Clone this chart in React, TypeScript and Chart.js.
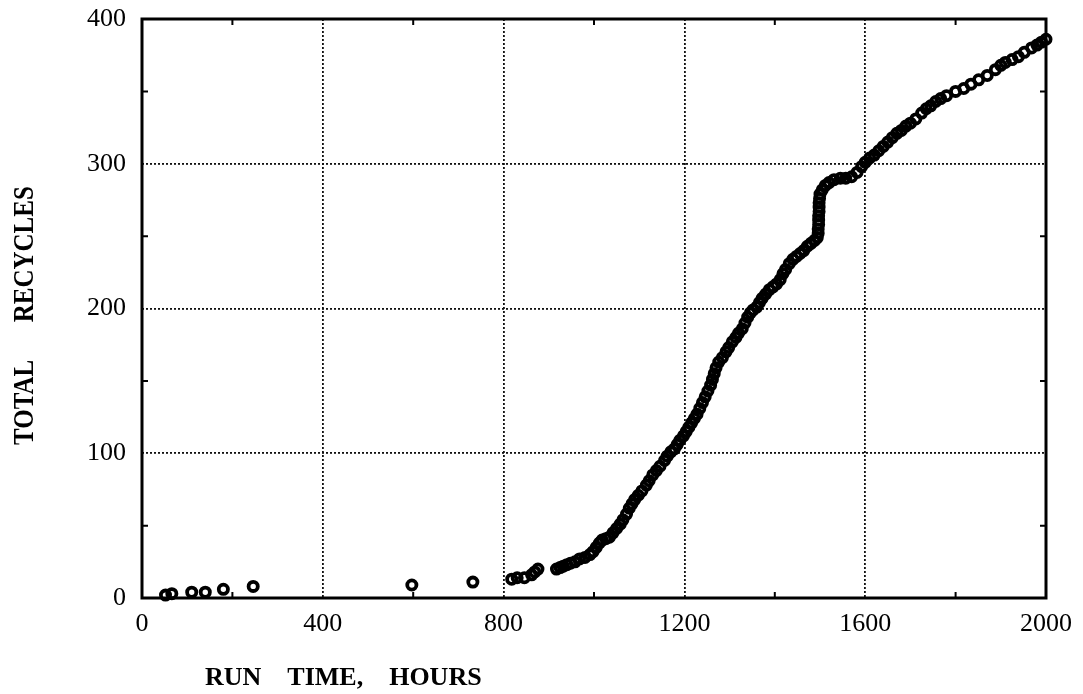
import React, { useEffect, useRef } from "react";
import { Chart, registerables } from "chart.js";

Chart.register(...registerables);

// Run time (hours) of each recorded recycle
const runHours = [
  52, 66, 110, 140, 180, 246, 597, 732,
  818, 830, 846, 862, 869, 876, 917, 925, 932, 940,
  948, 958, 968, 980, 991, 998, 1005, 1012, 1018, 1026,
  1034, 1042, 1050, 1058, 1064, 1072, 1078, 1084, 1090, 1098,
  1106, 1116, 1122, 1130, 1138, 1146, 1156, 1162, 1170, 1178,
  1184, 1190, 1198, 1204, 1210, 1216, 1222, 1228, 1234, 1240,
  1246, 1252, 1258, 1262, 1266, 1270, 1276, 1284, 1292, 1298,
  1306, 1314, 1320, 1328, 1334, 1340, 1346, 1352, 1360, 1366,
  1372, 1380, 1388, 1396, 1404, 1412, 1418, 1424, 1432, 1440,
  1448, 1456, 1464, 1472, 1480, 1488, 1494, 1496, 1496, 1497,
  1497, 1497, 1498, 1498, 1498, 1499, 1500, 1505, 1512, 1520,
  1531, 1545, 1557, 1570, 1582, 1592, 1600, 1610, 1620, 1630,
  1640, 1650, 1660, 1670, 1680, 1690, 1700, 1712, 1725, 1735,
  1745, 1756, 1767, 1780, 1800, 1818, 1834, 1851, 1870, 1888,
  1900, 1910, 1925, 1939, 1952, 1968, 1980, 1990, 2000,
];

// Total recycles at those times
const totalRecycles = [
  2, 3, 4, 4, 6, 8, 9, 11,
  13, 14, 14, 16, 18, 20, 20, 21, 22, 23,
  24, 25, 27, 28, 30, 32, 35, 38, 40, 41,
  42, 45, 48, 51, 54, 58, 62, 65, 68, 71,
  74, 78, 81, 85, 88, 91, 95, 98, 101, 103,
  106, 109, 112, 115, 118, 121, 124, 127, 131, 135,
  139, 143, 147, 151, 155, 159, 163, 166, 170, 173,
  177, 180, 183, 186, 190, 194, 197, 199, 201, 204,
  207, 210, 213, 215, 217, 220, 224, 227, 231, 234,
  236, 238, 240, 243, 245, 247, 249, 252, 255, 258,
  261, 264, 267, 270, 273, 276, 279, 282, 285, 287,
  289, 290, 290, 291, 294, 298, 301, 304, 306, 309,
  312, 315, 318, 321, 323, 326, 328, 331, 335, 338,
  340, 343, 345, 347, 350, 352, 355, 358, 361, 365,
  368, 370, 372, 374, 377, 380, 382, 384, 386,
];

const xTicks = [0, 400, 800, 1200, 1600, 2000];
const yTicks = [0, 100, 200, 300, 400];
const xMinorTicks = [200, 600, 1000, 1400, 1800];
const yMinorTicks = [50, 150, 250, 350];
const xTitle = "RUN    TIME,    HOURS";
const yTitle = "TOTAL      RECYCLES";

export default function App() {
  const ref = useRef<HTMLCanvasElement>(null);

  useEffect(() => {
    document.body.style.margin = "0";
    const canvas = ref.current;
    if (!canvas) return;

    const framePlugin = {
      id: "framePlugin",
      afterDraw(chart: any) {
        const { ctx, chartArea: a, scales } = chart;
        const xs = scales.x;
        const ys = scales.y;
        ctx.save();
        ctx.strokeStyle = "#000";
        ctx.lineWidth = 3;
        ctx.strokeRect(a.left, a.top, a.right - a.left, a.bottom - a.top);
        ctx.lineWidth = 2;
        const len = 6;
        ctx.beginPath();
        for (const v of xMinorTicks) {
          const px = xs.getPixelForValue(v);
          ctx.moveTo(px, a.bottom);
          ctx.lineTo(px, a.bottom - len);
          ctx.moveTo(px, a.top);
          ctx.lineTo(px, a.top + len);
        }
        for (const v of yMinorTicks) {
          const py = ys.getPixelForValue(v);
          ctx.moveTo(a.left, py);
          ctx.lineTo(a.left + len, py);
          ctx.moveTo(a.right, py);
          ctx.lineTo(a.right - len, py);
        }
        ctx.stroke();

        ctx.fillStyle = "#000";
        ctx.font = 'bold 26px "Liberation Serif"';
        ctx.textAlign = "left";
        ctx.textBaseline = "alphabetic";
        ctx.fillText(xTitle, 205, 685);

        ctx.save();
        ctx.translate(33, 445);
        ctx.rotate(-Math.PI / 2);
        ctx.scale(1, 1.2);
        ctx.font = 'bold 25px "Liberation Serif"';
        ctx.fillText(yTitle, 0, 0);
        ctx.restore();

        ctx.restore();
      },
    };

    const chart = new Chart(canvas, {
      type: "scatter",
      data: {
        datasets: [
          {
            data: runHours.map((x, i) => ({ x, y: totalRecycles[i] })),
            pointStyle: "circle",
            pointRadius: 4.6,
            pointBorderWidth: 3.8,
            pointBorderColor: "#000",
            pointBackgroundColor: "rgba(0,0,0,0)",
            showLine: false,
            clip: false as any,
          },
        ],
      },
      options: {
        animation: false,
        responsive: false,
        devicePixelRatio: 1,
        events: [],
        layout: { padding: { top: 19, right: 35, left: 0, bottom: 0 } },
        plugins: {
          legend: { display: false },
          tooltip: { enabled: false },
          title: { display: false },
        },
        scales: {
          x: {
            type: "linear",
            min: 0,
            max: 2000,
            afterBuildTicks: (s: any) => {
              s.ticks = xTicks.map((v) => ({ value: v }));
            },
            afterFit: (s: any) => {
              s.height = 96;
            },
            border: { display: false, dash: [2, 2] },
            grid: {
              color: "#111",
              lineWidth: 1.8,
              drawTicks: false,
            },
            ticks: {
              color: "#000",
              padding: 11,
              maxRotation: 0,
              font: { family: '"Liberation Serif"', size: 26 },
              callback: (v: any) => String(v),
            },
          },
          y: {
            type: "linear",
            min: 0,
            max: 400,
            afterBuildTicks: (s: any) => {
              s.ticks = yTicks.map((v) => ({ value: v }));
            },
            afterFit: (s: any) => {
              s.width = 142;
              s.paddingTop = 0;
              s.paddingBottom = 0;
            },
            border: { display: false, dash: [2, 2] },
            grid: {
              color: "#111",
              lineWidth: 1.8,
              drawTicks: false,
            },
            ticks: {
              color: "#000",
              padding: 16,
              font: { family: '"Liberation Serif"', size: 26, lineHeight: 0.6 },
              callback: (v: any) => String(v),
            },
          },
        },
      },
      plugins: [framePlugin],
    } as any);

    return () => chart.destroy();
  }, []);

  return (
    <canvas
      ref={ref}
      width={1083}
      height={694}
      style={{ display: "block", width: 1083, height: 694 }}
    />
  );
}
